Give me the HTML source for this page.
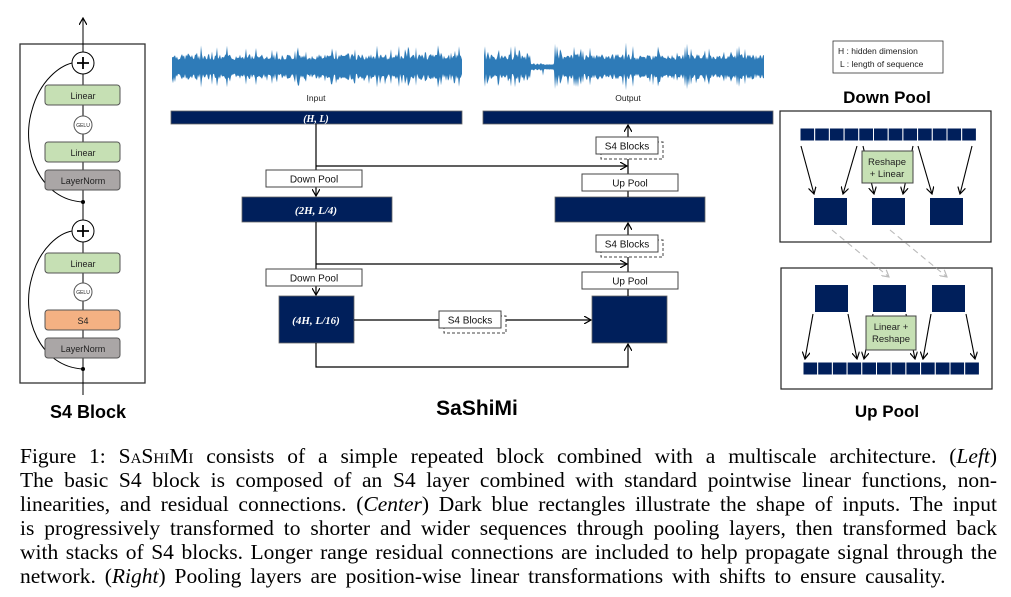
<!DOCTYPE html>
<html><head><meta charset="utf-8"><style>
body{margin:0;background:#fff;width:1011px;height:597px;overflow:hidden;position:relative}
svg{position:absolute;left:0;top:0}
.cap{position:absolute;left:20px;width:977px;font-family:"Liberation Serif",serif;font-size:21.5px;color:#000;text-align:justify;text-align-last:justify;white-space:nowrap;line-height:24px}
.cap.last{text-align-last:left;word-spacing:3.5px}
.sc{font-variant:small-caps}
</style></head><body>
<svg width="1011" height="597" viewBox="0 0 1011 597" font-family="Liberation Sans, sans-serif">
<defs>
<marker id="a" markerWidth="8" markerHeight="8" refX="7" refY="4" orient="auto" markerUnits="userSpaceOnUse"><path d="M0,0 L7,4 L0,8" fill="none" stroke="#000" stroke-width="1.2"/></marker>
<marker id="g" markerWidth="8" markerHeight="8" refX="7" refY="4" orient="auto" markerUnits="userSpaceOnUse"><path d="M0,0 L7,4 L0,8" fill="none" stroke="#bbb" stroke-width="1.2"/></marker>
</defs>
<rect x="20" y="44" width="125" height="339" fill="none" stroke="#333" stroke-width="1.3"/>
<line x1="83" y1="395" x2="83" y2="18" stroke="#000" stroke-width="1" marker-end="url(#a)"/>
<path d="M83,202 C40,200 20,150 32,110 C40,80 60,66 72,63" fill="none" stroke="#000"/>
<path d="M83,369 C40,367 20,317 32,277 C40,247 60,233 72,231" fill="none" stroke="#000"/>
<circle cx="83" cy="202" r="2"/><circle cx="83" cy="369" r="2"/>
<g font-size="9" text-anchor="middle" fill="#222">
<rect x="45" y="85" width="75" height="20" rx="3" fill="#c6e0b4" stroke="#555"/><text x="83" y="99">Linear</text>
<rect x="45" y="142" width="75" height="20" rx="3" fill="#c6e0b4" stroke="#555"/><text x="83" y="156">Linear</text>
<rect x="45" y="170" width="75" height="20" rx="3" fill="#aaa6a6" stroke="#555"/><text x="83" y="184">LayerNorm</text>
<rect x="45" y="253" width="75" height="20" rx="3" fill="#c6e0b4" stroke="#555"/><text x="83" y="267">Linear</text>
<rect x="45" y="310" width="75" height="20" rx="3" fill="#f4b183" stroke="#555"/><text x="83" y="324">S4</text>
<rect x="45" y="338" width="75" height="20" rx="3" fill="#aaa6a6" stroke="#555"/><text x="83" y="352">LayerNorm</text>
<circle cx="83" cy="125" r="9" fill="#fff" stroke="#555"/><text x="83" y="127" font-size="5">GELU</text>
<circle cx="83" cy="292" r="9" fill="#fff" stroke="#555"/><text x="83" y="294" font-size="5">GELU</text>
</g>
<g fill="#fff" stroke="#000"><circle cx="83" cy="63" r="11"/><circle cx="83" cy="231" r="11"/></g>
<g stroke="#000" stroke-width="1.8"><path d="M77,63h12M83,57v12M77,231h12M83,225v12"/></g>
<text x="88" y="418" font-size="18" font-weight="bold" text-anchor="middle">S4 Block</text>

<path id="w1" fill="#2e7bb8"/><path id="w2" fill="#2e7bb8"/>
<g font-size="8.5" text-anchor="middle" fill="#222"><text x="316" y="101">Input</text><text x="628" y="101">Output</text></g>
<g fill="#001f5b" stroke="#666" stroke-width="0.8">
<rect x="171" y="111" width="291" height="13"/>
<rect x="483" y="111" width="290" height="13"/>
<rect x="242" y="197" width="150" height="25"/>
<rect x="555" y="197" width="150" height="25"/>
<rect x="279" y="296" width="75" height="47"/>
<rect x="592" y="296" width="75" height="47"/>
</g>
<g fill="#fff" font-family="Liberation Serif, serif" font-weight="bold" font-style="italic" text-anchor="middle">
<text x="316" y="122" font-size="10">(H, L)</text>
<text x="316" y="214" font-size="11">(2H, L/4)</text>
<text x="316" y="324" font-size="11">(4H, L/16)</text>
</g>
<g stroke="#000" stroke-width="1.2" fill="none">
<line x1="316" y1="124" x2="316" y2="196" marker-end="url(#a)"/>
<line x1="316" y1="166" x2="627" y2="166" marker-end="url(#a)"/>
<line x1="316" y1="222" x2="316" y2="295" marker-end="url(#a)"/>
<line x1="316" y1="264" x2="627" y2="264" marker-end="url(#a)"/>
<line x1="354" y1="320" x2="591" y2="320" marker-end="url(#a)"/>
<path d="M316,343V367H628V344" marker-end="url(#a)"/>
<line x1="628" y1="296" x2="628" y2="223" marker-end="url(#a)"/>
<line x1="628" y1="197" x2="628" y2="125" marker-end="url(#a)"/>
</g>
<g font-size="10" text-anchor="middle" fill="#111">
<rect x="266" y="170" width="96" height="17" fill="#fff" stroke="#444"/><text x="314" y="182.5">Down Pool</text>
<rect x="266" y="269" width="96" height="17" fill="#fff" stroke="#444"/><text x="314" y="281.5">Down Pool</text>
<rect x="582" y="174" width="96" height="17" fill="#fff" stroke="#444"/><text x="630" y="186.5">Up Pool</text>
<rect x="582" y="272" width="96" height="17" fill="#fff" stroke="#444"/><text x="630" y="284.5">Up Pool</text>
<rect x="601" y="142" width="62" height="17" fill="#fff" stroke="#444" stroke-dasharray="3,2"/>
<rect x="596" y="137" width="62" height="17" fill="#fff" stroke="#444"/><text x="627" y="149.5">S4 Blocks</text>
<rect x="601" y="240" width="62" height="17" fill="#fff" stroke="#444" stroke-dasharray="3,2"/>
<rect x="596" y="235" width="62" height="17" fill="#fff" stroke="#444"/><text x="627" y="247.5">S4 Blocks</text>
<rect x="444" y="316" width="62" height="17" fill="#fff" stroke="#444" stroke-dasharray="3,2"/>
<rect x="439" y="311" width="62" height="17" fill="#fff" stroke="#444"/><text x="470" y="323.5">S4 Blocks</text>
</g>
<text x="477" y="415" font-size="21" font-weight="bold" text-anchor="middle">SaShiMi</text>

<rect x="833" y="41" width="110" height="32" fill="#fff" stroke="#333" stroke-width="0.8"/>
<g font-size="8.5" fill="#222"><text x="838" y="54">H : hidden dimension</text><text x="840" y="67">L : length of sequence</text></g>
<text x="887" y="103" font-size="17" font-weight="bold" text-anchor="middle">Down Pool</text>
<text x="887" y="417" font-size="17" font-weight="bold" text-anchor="middle">Up Pool</text>
<rect x="780" y="111" width="211" height="131" fill="#fff" stroke="#222" stroke-width="1.2"/>
<rect x="781" y="268" width="211" height="121" fill="#fff" stroke="#222" stroke-width="1.2"/>
<g id="rows" fill="#001f5b" stroke="#fff" stroke-width="1"></g>
<g fill="#001f5b">
<rect x="814" y="198" width="33" height="27"/><rect x="872" y="198" width="33" height="27"/><rect x="930" y="198" width="33" height="27"/>
<rect x="815" y="285" width="33" height="27"/><rect x="873" y="285" width="33" height="27"/><rect x="932" y="285" width="33" height="27"/>
</g>
<g stroke="#000" stroke-width="1.1" fill="none">
<line x1="801" y1="146" x2="814" y2="194" marker-end="url(#a)"/>
<line x1="857" y1="146" x2="843" y2="194" marker-end="url(#a)"/>
<line x1="863" y1="146" x2="874" y2="194" marker-end="url(#a)"/>
<line x1="913" y1="146" x2="903" y2="194" marker-end="url(#a)"/>
<line x1="918" y1="146" x2="932" y2="194" marker-end="url(#a)"/>
<line x1="972" y1="146" x2="960" y2="194" marker-end="url(#a)"/>
<line x1="813" y1="314" x2="805" y2="359" marker-end="url(#a)"/>
<line x1="848" y1="314" x2="857" y2="359" marker-end="url(#a)"/>
<line x1="873" y1="314" x2="864" y2="359" marker-end="url(#a)"/>
<line x1="906" y1="314" x2="915" y2="359" marker-end="url(#a)"/>
<line x1="931" y1="314" x2="923" y2="359" marker-end="url(#a)"/>
<line x1="966" y1="314" x2="975" y2="359" marker-end="url(#a)"/>
</g>
<g stroke="#bbb" stroke-width="1.1" stroke-dasharray="6,4" fill="none">
<line x1="832" y1="230" x2="889" y2="277" marker-end="url(#g)"/>
<line x1="890" y1="230" x2="947" y2="277" marker-end="url(#g)"/>
</g>
<g font-size="9.5" text-anchor="middle" fill="#222">
<rect x="862" y="151" width="51" height="32" fill="#c6e0b4" stroke="#444"/><text x="887" y="165">Reshape</text><text x="887" y="177">+ Linear</text>
<rect x="866" y="316" width="50" height="34" fill="#c6e0b4" stroke="#444"/><text x="891" y="330">Linear +</text><text x="891" y="342">Reshape</text>
</g>
</svg>
<div class="cap" style="top:444px">Figure 1: <span class="sc">SaShiMi</span> consists of a simple repeated block combined with a multiscale architecture. (<i>Left</i>)</div>
<div class="cap" style="top:468px">The basic S4 block is composed of an S4 layer combined with standard pointwise linear functions, non-</div>
<div class="cap" style="top:492px">linearities, and residual connections. (<i>Center</i>) Dark blue rectangles illustrate the shape of inputs. The input</div>
<div class="cap" style="top:516px">is progressively transformed to shorter and wider sequences through pooling layers, then transformed back</div>
<div class="cap" style="top:540px">with stacks of S4 blocks. Longer range residual connections are included to help propagate signal through the</div>
<div class="cap last" style="top:564px">network. (<i>Right</i>) Pooling layers are position-wise linear transformations with shifts to ensure causality.</div>
<script>
function wave(id,x0,x1,seed,quiet){var s=seed;function r(){s=(s*9301+49297)%233280;return s/233280}
var top=[],bot=[],c=67;for(var x=x0;x<=x1;x+=1){var a=7+r()*6;if(r()<0.15)a+=r()*12;
if(quiet&&x>quiet[0]&&x<quiet[1])a=2+r()*2;
top.push(x+','+(c-a).toFixed(1));bot.unshift(x+','+(c+a*0.95+(r()<0.12?r()*8:0)).toFixed(1));}
document.getElementById(id).setAttribute('d','M'+top.join('L')+'L'+bot.join('L')+'Z');}
wave('w1',172,462,7,null);wave('w2',484,764,13,[530,555]);
var g=document.getElementById('rows'),h='';
for(var i=0;i<12;i++){h+='<rect x="'+(800+i*14.7)+'" y="128" width="14.7" height="13"/>';h+='<rect x="'+(803+i*14.7)+'" y="362" width="14.7" height="13"/>';}
g.innerHTML=h;
</script>
</body></html>
